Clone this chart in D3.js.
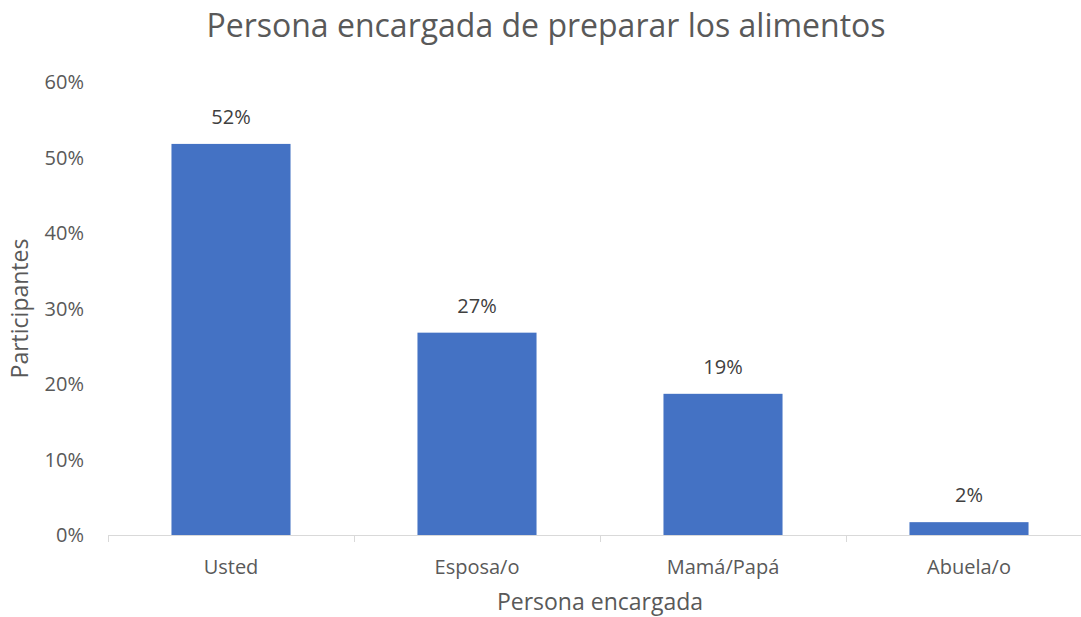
<!DOCTYPE html>
<html><head><meta charset="utf-8">
<script src="https://cdn.jsdelivr.net/npm/d3@7"></script>
<style>body{margin:0;background:#fff}svg{display:block}text{font-family:"Open Sans",sans-serif;fill:#595959}</style>
</head><body><svg id="c" width="1081" height="617"></svg>
<script>
const categories = ["Usted","Esposa/o","Mamá/Papá","Abuela/o"];
const values = [51.8, 26.8, 18.7, 1.7];
const yTicks = [0,10,20,30,40,50,60];
const title = "Persona encargada de preparar los alimentos";
const xTitle = "Persona encargada";
const yTitle = "Participantes";

(function(){
const svg = d3.select("#c");
const mL = 108, mR = 1092, mT = 82, mB = 535;
const x = d3.scaleBand().domain(categories).range([mL, mR]).paddingInner(0.516).paddingOuter(0.258);
const xb = d3.scaleBand().domain(categories).range([mL, mR]);
const y = d3.scaleLinear().domain([0, 60]).range([mB, mT]);

svg.append("text").attr("x", 546).attr("y", 37).attr("text-anchor","middle").style("font-size","32px").text(title);

svg.selectAll("rect.bar").data(values).enter().append("rect")
  .attr("x",(d,i)=>x(categories[i])).attr("width",x.bandwidth())
  .attr("y",d=>y(d)).attr("height",d=>mB-y(d)).attr("fill","#4472C4");

svg.append("line").attr("x1",mL).attr("x2",mR).attr("y1",mB+0.5).attr("y2",mB+0.5).attr("stroke","#d9d9d9");
const bounds = categories.map(c=>xb(c)).concat([mR]);
svg.selectAll("line.tk").data(bounds).enter().append("line")
  .attr("x1",d=>Math.round(d)+0.5).attr("x2",d=>Math.round(d)+0.5).attr("y1",mB).attr("y2",mB+7).attr("stroke","#d9d9d9");

svg.selectAll("text.cat").data(categories).enter().append("text")
  .attr("x",d=>xb(d)+xb.bandwidth()/2).attr("y",574).attr("text-anchor","middle").style("font-size","20px").text(d=>d);

svg.selectAll("text.yt").data(yTicks).enter().append("text")
  .attr("x",84).attr("y",d=>y(d)+7).attr("text-anchor","end").style("font-size","20px").text(d=>d+"%");

svg.selectAll("text.lbl").data(values).enter().append("text")
  .attr("x",(d,i)=>xb(categories[i])+xb.bandwidth()/2).attr("y",d=>y(d)-20).attr("text-anchor","middle").style("font-size","20px").style("fill","#404040").text(d=>Math.round(d)+"%");

svg.append("text").attr("x",(mL+mR)/2).attr("y",610).attr("text-anchor","middle").style("font-size","23px").text(xTitle);
svg.append("text").attr("transform",`translate(28,${(mT+mB)/2}) rotate(-90)`).attr("text-anchor","middle").style("font-size","23px").text(yTitle);
})();
</script></body></html>
